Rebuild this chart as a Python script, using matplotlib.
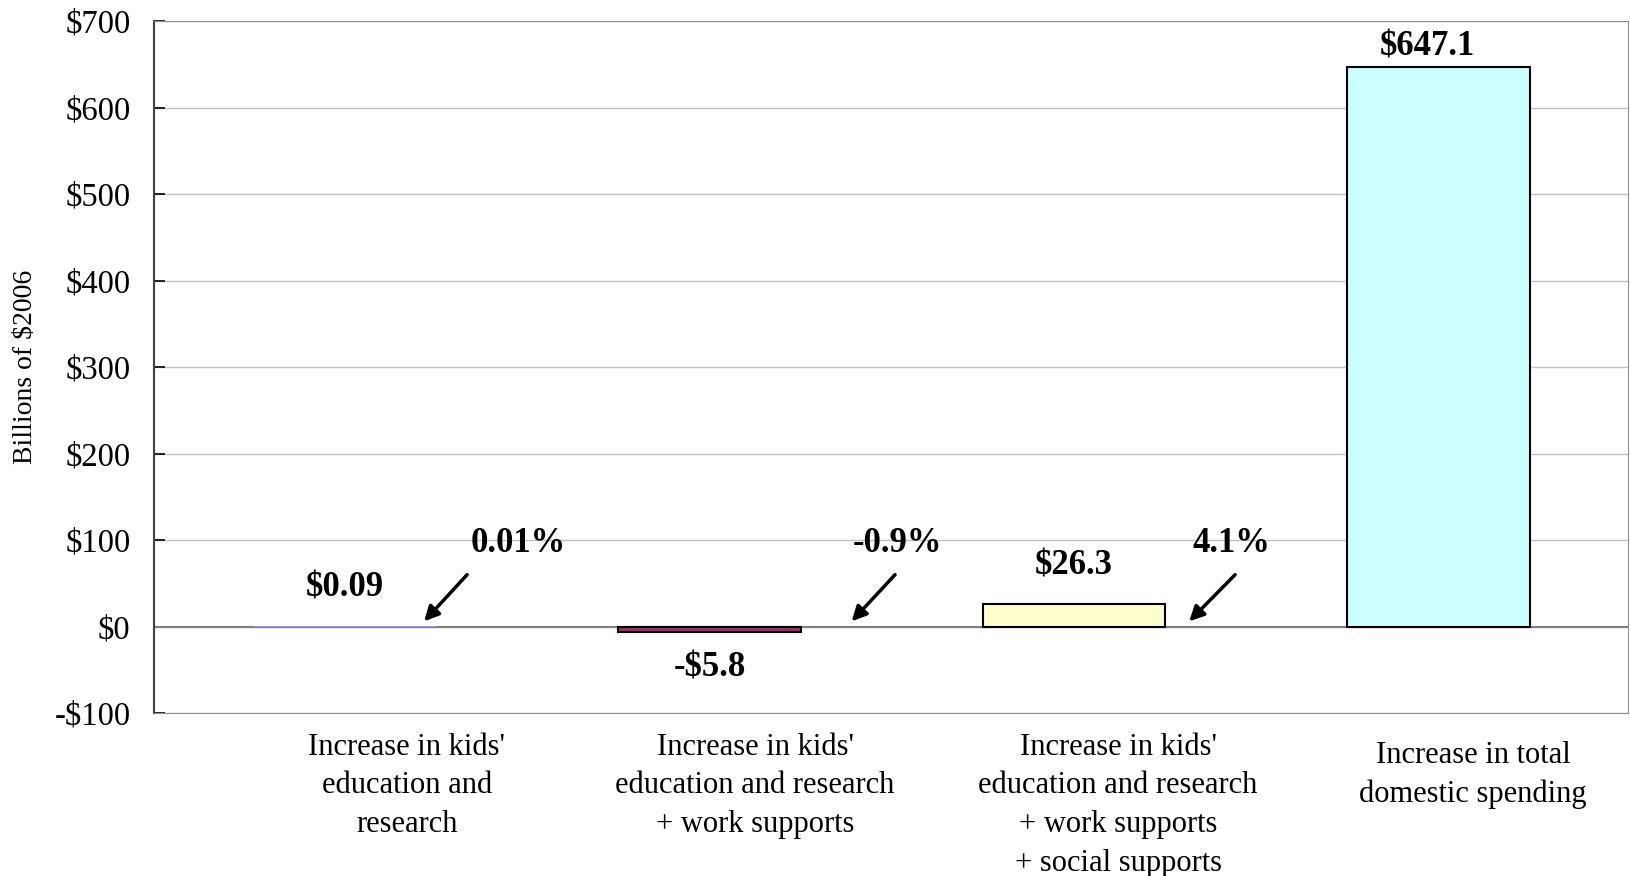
import matplotlib
matplotlib.use('Agg')
from matplotlib import pyplot as plt
from matplotlib.ticker import FuncFormatter

plt.rcParams['font.family'] = ['Liberation Serif', 'DejaVu Serif']

# data
categories = ["Increase in kids'\neducation and\nresearch",
              "Increase in kids'\neducation and research\n+ work supports",
              "Increase in kids'\neducation and research\n+ work supports\n+ social supports",
              "Increase in total\ndomestic spending"]
values = [0.09, -5.8, 26.3, 647.1]
value_labels = ['$0.09', '-$5.8', '$26.3', '$647.1']
pct_labels = ['0.01%', '-0.9%', '4.1%']
bar_colors = ['#9999FF', '#993366', '#FFFFCC', '#CCFFFF']
yticks = [-100, 0, 100, 200, 300, 400, 500, 600, 700]

fig = plt.figure(figsize=(16.3, 8.76), dpi=100)
ax = fig.add_axes([0.0945, 0.186, 0.9043, 0.790])

x = list(range(len(values)))
ax.axhline(0, color='#808080', linewidth=1.5, zorder=2)
# the first bar is too thin to show
ax.bar(x, values, width=0.5, color=bar_colors, edgecolor='black',
       linewidth=[0, 1.5, 1.5, 1.5], zorder=3)

ax.set_xlim(-0.524, 3.52)
ax.set_ylim(-100, 700)
ax.set_yticks(yticks)
ax.yaxis.set_major_formatter(FuncFormatter(lambda v, p: ('-$%d' % -v) if v < 0 else ('$%d' % v)))
ax.yaxis.grid(True, color='#C0C0C0', linewidth=1, zorder=0)
ax.set_axisbelow(True)

ax.set_xticks([0.17, 1.125, 2.121, 3.095])
ax.set_xticklabels(categories, fontsize=22, linespacing=1.45)
ax.tick_params(axis='x', length=0, pad=14)
ax.tick_params(axis='y', direction='in', length=8, width=1.2, labelsize=23.5, pad=17)
# last label sits a little lower in the original
ax.get_xticklabels()[3].set_y(-0.012)

for s in ['top', 'right', 'bottom']:
    ax.spines[s].set_color('#909090')
ax.spines['left'].set_color('#404040')
ax.spines['left'].set_linewidth(1.5)

ax.set_ylabel('Billions of $2006', fontsize=20, labelpad=12)

# value labels
lab_pos = [(0.0, 45), (1.0, -48), (2.0, 70), (2.97, 670)]
for (lx, ly), t in zip(lab_pos, value_labels):
    ax.text(lx, ly, t, ha='center', va='center', fontsize=25, fontweight='bold')

# percent labels with arrows
pct_pos = [0.475, 1.517, 2.433]
tails = [(0.335, 60), (1.509, 60), (2.442, 60)]
heads = [(0.217, 6), (1.390, 6), (2.316, 6)]
for px, t, tl, hd in zip(pct_pos, pct_labels, tails, heads):
    ax.text(px, 96, t, ha='center', va='center', fontsize=25, fontweight='bold')
    ax.annotate('', xy=hd, xytext=tl,
                arrowprops=dict(arrowstyle='-|>', color='black', lw=2.5, mutation_scale=22,
                                shrinkA=0, shrinkB=0), zorder=5)

fig.savefig('out.png', dpi=100)
